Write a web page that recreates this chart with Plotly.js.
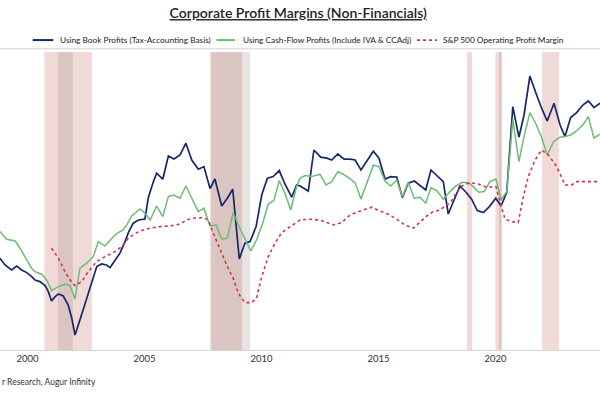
<!DOCTYPE html>
<html>
<head>
<meta charset="utf-8">
<script src="https://cdn.plot.ly/plotly-3.0.1.min.js"></script>
<style>
  html, body { margin: 0; padding: 0; background: #fff; }
  #chart { width: 600px; height: 400px; }
</style>
</head>
<body>
<div id="chart"></div>
<script>
// Profit margins, %, x in decimal years
const bookYears = [1998.82,1999.04,1999.32,1999.54,1999.75,1999.97,2000.18,2000.32,2000.53,2000.75,2000.89,2001.03,2001.18,2001.32,2001.53,2001.74,2001.89,2002.03,2002.24,2002.46,2002.67,2002.96,2003.17,2003.38,2003.53,2003.74,2003.95,2004.17,2004.31,2004.52,2004.74,2005.02,2005.16,2005.38,2005.52,2005.78,2006.02,2006.26,2006.52,2006.77,2007.02,2007.30,2007.54,2007.80,2008.01,2008.30,2008.54,2008.77,2009.05,2009.29,2009.51,2009.77,2010.01,2010.25,2010.50,2010.76,2011.00,2011.29,2011.50,2011.65,2012.00,2012.24,2012.53,2012.79,2013.00,2013.26,2013.53,2013.78,2014.00,2014.25,2014.50,2014.78,2015.02,2015.28,2015.52,2015.78,2016.02,2016.27,2016.53,2016.77,2017.02,2017.24,2017.51,2017.77,2017.98,2018.27,2018.48,2018.74,2018.98,2019.22,2019.48,2019.74,2020.01,2020.24,2020.48,2020.74,2021.00,2021.22,2021.47,2021.73,2021.97,2022.21,2022.50,2022.76,2022.97,2023.21,2023.47,2023.73,2023.97,2024.21,2024.47];
const bookMargin = [8.24,7.90,7.65,7.85,7.65,7.52,7.32,7.15,7.07,6.87,6.57,6.10,6.32,6.45,6.35,5.90,5.25,4.40,5.15,6.00,6.82,7.82,7.95,7.90,7.77,8.15,8.49,9.07,9.52,9.99,10.15,10.20,11.25,12.07,12.49,12.19,13.35,13.20,13.40,13.99,13.15,12.69,12.82,11.72,12.20,10.85,11.24,11.69,8.20,8.99,9.07,9.82,11.40,12.24,12.32,12.62,11.95,11.29,11.90,11.85,11.60,13.65,13.29,13.24,13.15,13.45,13.19,13.19,13.15,12.65,13.07,13.59,13.24,12.20,12.32,12.30,11.27,11.99,12.10,11.90,11.65,12.65,12.35,12.07,10.45,11.32,11.85,11.54,11.19,10.62,10.52,10.82,11.24,10.85,11.54,15.82,14.29,15.40,17.35,16.49,15.74,15.10,15.99,14.90,14.32,15.27,15.52,15.90,16.10,15.77,15.99];

const cashYears = [1998.82,1999.11,1999.47,1999.68,1999.97,2000.18,2000.32,2000.61,2000.82,2001.03,2001.32,2001.60,2001.82,2002.03,2002.24,2002.53,2002.81,2003.03,2003.31,2003.53,2003.74,2003.95,2004.09,2004.24,2004.45,2004.81,2005.02,2005.24,2005.52,2005.78,2006.02,2006.26,2006.52,2006.77,2007.02,2007.30,2007.54,2007.80,2008.06,2008.30,2008.54,2008.79,2009.01,2009.29,2009.54,2009.79,2010.05,2010.29,2010.53,2010.76,2011.00,2011.25,2011.50,2011.65,2011.86,2012.15,2012.50,2012.76,2013.00,2013.26,2013.50,2013.75,2014.00,2014.25,2014.50,2014.78,2015.02,2015.28,2015.52,2015.78,2016.02,2016.27,2016.53,2016.77,2017.02,2017.24,2017.49,2017.77,2018.06,2018.27,2018.56,2018.84,2019.05,2019.29,2019.52,2019.76,2020.02,2020.24,2020.48,2020.74,2021.00,2021.22,2021.47,2021.73,2021.97,2022.21,2022.50,2022.76,2022.97,2023.21,2023.47,2023.73,2023.97,2024.21,2024.47];
const cashMargin = [9.57,9.19,9.10,8.74,8.15,7.74,7.57,7.44,7.15,6.62,6.82,6.94,6.87,6.19,7.74,7.99,8.32,9.07,8.85,9.15,9.40,9.57,9.65,9.90,10.35,10.70,10.49,10.15,10.85,10.32,11.32,11.40,11.24,11.85,11.24,10.57,10.74,9.85,9.90,9.19,9.24,10.52,9.90,9.24,8.60,9.15,9.99,10.95,11.12,12.12,11.49,10.65,11.82,12.24,12.37,12.32,12.44,11.90,12.07,12.57,12.44,12.24,12.02,11.20,12.02,12.89,12.82,12.10,11.85,12.15,11.32,12.02,11.24,11.29,10.99,11.77,11.62,11.19,11.57,11.82,12.02,12.02,11.82,11.54,11.57,12.07,12.20,11.15,11.57,15.19,13.07,14.32,15.52,14.95,14.29,13.40,14.10,14.29,14.32,14.40,14.60,14.90,15.32,14.24,14.45];

const spYears = [2001.03,2001.32,2001.60,2001.82,2002.03,2002.32,2002.60,2002.96,2003.31,2003.74,2004.03,2004.31,2004.67,2004.95,2005.24,2005.66,2006.09,2006.52,2006.80,2007.09,2007.51,2007.73,2007.94,2008.23,2008.51,2008.79,2009.01,2009.29,2009.58,2009.79,2010.01,2010.29,2010.58,2010.86,2011.22,2011.65,2012.07,2012.50,2012.79,2013.07,2013.43,2013.78,2014.14,2014.50,2014.71,2015.06,2015.42,2015.78,2016.13,2016.49,2016.77,2017.06,2017.34,2017.63,2017.91,2018.06,2018.27,2018.56,2018.91,2019.26,2019.62,2020.02,2020.19,2020.41,2020.69,2020.97,2021.19,2021.40,2021.69,2021.97,2022.26,2022.62,2022.97,2023.26,2023.47,2024.04,2024.47];
const spMargin = [8.74,8.24,7.57,7.15,6.87,7.07,7.57,8.07,8.32,8.57,8.82,9.24,9.52,9.65,9.74,9.82,9.85,9.95,10.15,10.24,10.27,10.15,9.49,8.65,7.90,7.24,6.49,6.02,6.02,6.24,7.32,8.32,8.99,9.52,9.82,10.15,10.19,10.15,10.02,9.90,10.02,10.40,10.57,10.69,10.79,10.60,10.44,10.19,9.90,9.74,10.02,10.35,10.57,10.65,10.90,10.99,11.40,11.85,12.02,11.95,11.79,11.82,11.07,10.19,10.07,10.02,11.32,12.32,13.15,13.65,13.40,12.82,11.90,11.90,12.07,12.07,12.07];

// shaded periods [start, end] in decimal years
const pinkBands = [[2000.72, 2002.75], [2007.80, 2009.17], [2018.78, 2019.00], [2020.00, 2020.26], [2021.99, 2022.71]];
const greyBands = [[2001.30, 2001.94], [2007.86, 2009.51], [2020.15, 2020.27]];

const tickYears = [2000, 2005, 2010, 2015, 2020];

const seriesNames = [
  "Using Book Profits (Tax-Accounting Basis)",
  "Using Cash-Flow Profits (Include IVA & CCAdj)",
  "S&P 500 Operating Profit Margin",
];
const seriesColors = ["#172868", "#6dbb76", "#d0364f"];

const FONT = "Lato, 'Open Sans', sans-serif";

const traces = [
  {
    x: bookYears, y: bookMargin, type: "scatter", mode: "lines",
    name: seriesNames[0], line: { color: seriesColors[0], width: 1.7 },
  },
  {
    x: cashYears, y: cashMargin, type: "scatter", mode: "lines",
    name: seriesNames[1], line: { color: seriesColors[1], width: 1.5 },
  },
  {
    x: spYears, y: spMargin, type: "scatter", mode: "lines",
    name: seriesNames[2], line: { color: seriesColors[2], width: 1.6, dash: "dot" },
  },
];

const shapes = [];
for (const [a, b] of pinkBands) {
  shapes.push({
    type: "rect", xref: "x", yref: "paper", x0: a, x1: b, y0: 0, y1: 1,
    fillcolor: "rgba(205,120,110,0.28)", line: { width: 0 }, layer: "below",
  });
}
for (const [a, b] of greyBands) {
  shapes.push({
    type: "rect", xref: "x", yref: "paper", x0: a, x1: b, y0: 0, y1: 1,
    fillcolor: "rgba(140,128,128,0.22)", line: { width: 0 }, layer: "below",
  });
}
// thin rule between legend and plot
shapes.push({
  type: "line", xref: "paper", yref: "paper", x0: 0, x1: 1, y0: 1.011, y1: 1.011,
  line: { color: "#e2e2e2", width: 1.5 },
});

// hand-drawn one-row legend (plotly's own wraps at this width)
const LEG_Y = 1.040;
const legendSlots = [[0.0545, 0.0888, 0.0967], [0.3608, 0.3917, 0.4017], [0.6950, 0.7283, 0.7350]];
const annotations = [];
legendSlots.forEach(([l0, l1, tx], i) => {
  shapes.push({
    type: "line", xref: "paper", yref: "paper", x0: l0, x1: l1, y0: LEG_Y, y1: LEG_Y,
    line: { color: seriesColors[i], width: i === 2 ? 1.8 : 2, dash: i === 2 ? "dot" : "solid" },
  });
  annotations.push({
    xref: "paper", yref: "paper", x: tx, y: LEG_Y, xanchor: "left", yanchor: "middle",
    text: seriesNames[i], showarrow: false,
    font: { family: FONT, size: 8.3, color: "#222" },
  });
});

annotations.push({
  xref: "paper", yref: "paper", x: 0, y: -0.108, xanchor: "left", yanchor: "middle",
  text: "r Research, Augur Infinity", showarrow: false,
  font: { family: FONT, size: 8.5, color: "#333" },
});

const layout = {
  width: 600, height: 400,
  paper_bgcolor: "#fff", plot_bgcolor: "#fff",
  font: { family: FONT, color: "#222", size: 9 },
  margin: { l: 0, r: 0, t: 52, b: 50 },
  title: {
    text: "Corporate Profit Margins (Non-Financials)",
    font: { family: FONT, size: 14, weight: 600, color: "#222", lineposition: "under" },
    x: 0.497, xanchor: "center", y: 0.967, yanchor: "middle",
  },
  showlegend: false,
  xaxis: {
    range: [1998.825, 2024.466],
    tickvals: tickYears, ticktext: tickYears.map(String),
    showgrid: false, zeroline: false,
    showline: true, linecolor: "#d6d6d6", linewidth: 1,
    ticks: "", tickfont: { family: FONT, size: 9.5, color: "#333" },
  },
  yaxis: {
    range: [3.65, 18.55],
    showgrid: false, zeroline: false, showline: false,
    showticklabels: false, ticks: "",
  },
  shapes,
  annotations,
};

Plotly.newPlot("chart", traces, layout, { displayModeBar: false, staticPlot: true });
</script>
</body>
</html>
